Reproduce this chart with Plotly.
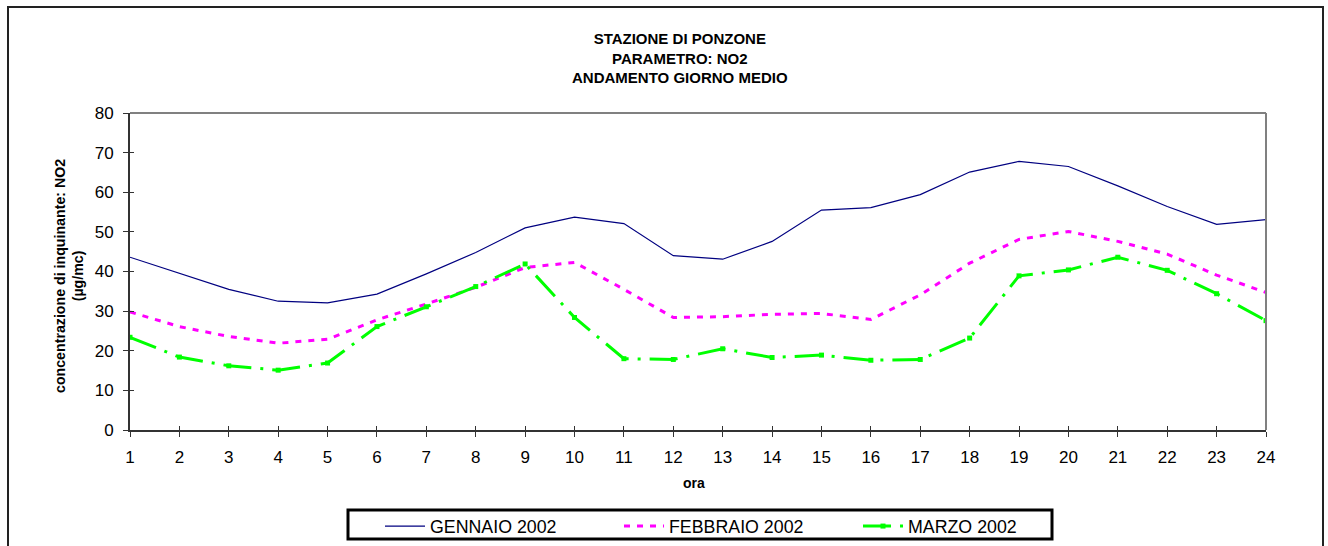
import plotly.graph_objects as go

# Hour of day
ore = list(range(1, 25))

# Mean daily NO2 profile (µg/mc) per month
gennaio_2002 = [43.6, 39.5, 35.5, 32.5, 32.1, 34.3, 39.4, 44.8, 51.0, 53.7, 52.1, 44.0,
                43.1, 47.6, 55.5, 56.1, 59.4, 65.1, 67.8, 66.5, 61.6, 56.4, 51.9, 53.1]
febbraio_2002 = [29.8, 26.1, 23.6, 21.9, 22.9, 27.8, 31.8, 36.0, 41.0, 42.3, 35.5, 28.4,
                 28.6, 29.2, 29.4, 27.9, 34.1, 42.1, 48.1, 50.1, 47.6, 44.4, 39.1, 34.7]
marzo_2002 = [23.4, 18.4, 16.2, 15.1, 16.9, 26.1, 31.1, 36.2, 41.9, 28.4, 18.0, 17.8,
              20.5, 18.3, 18.9, 17.6, 17.8, 23.2, 38.9, 40.4, 43.6, 40.3, 34.4, 27.6]

y_ticks = [0, 10, 20, 30, 40, 50, 60, 70, 80]

FONT = "Liberation Sans, Arial, sans-serif"

W, H = 1328, 546
ML, MR, MT, MB = 130, 62, 113, 116
PW, PH = W - ML - MR, H - MT - MB


def px_x(x):
    return (x - ML) / PW


def px_y(y):
    return (H - MB - y) / PH


fig = go.Figure()

fig.add_trace(go.Scatter(
    x=ore, y=gennaio_2002, name="GENNAIO 2002", mode="lines",
    line=dict(color="#000080", width=1.2),
))
fig.add_trace(go.Scatter(
    x=ore, y=febbraio_2002, name="FEBBRAIO 2002", mode="lines",
    line=dict(color="#FF00FF", width=3, dash="6px,7px"),
))
fig.add_trace(go.Scatter(
    x=ore, y=marzo_2002, name="MARZO 2002", mode="lines+markers",
    line=dict(color="#00FF00", width=3, dash="28px,9px,3px,9px"),
    marker=dict(symbol="square", size=5, color="#00FF00"),
))

# helper trace so the overlay axes (inner half of the crossing ticks) are drawn
fig.add_trace(go.Scatter(
    x=[None], y=[None], xaxis="x2", yaxis="y2", showlegend=False,
    hoverinfo="skip", mode="lines",
))

axis_color = "#333333"

fig.update_layout(
    width=W, height=H,
    margin=dict(l=ML, r=MR, t=MT, b=MB, autoexpand=False),
    paper_bgcolor="white", plot_bgcolor="white",
    font=dict(family=FONT, color="black", size=17),
    showlegend=True,
    xaxis=dict(
        range=[1, 24], tickmode="array", tickvals=ore, ticktext=[str(h) for h in ore],
        showgrid=False, zeroline=False,
        showline=True, linecolor=axis_color, linewidth=2,
        ticks="outside", ticklen=5, tickwidth=1, tickcolor=axis_color,
        tickfont=dict(size=17), ticklabelstandoff=6,
    ),
    yaxis=dict(
        range=[0, 80], tickmode="array", tickvals=y_ticks,
        showgrid=False, zeroline=False,
        showline=True, linecolor=axis_color, linewidth=2,
        ticks="outside", ticklen=5, tickwidth=1, tickcolor=axis_color,
        tickfont=dict(size=17), ticklabelstandoff=6,
    ),
    xaxis2=dict(
        overlaying="x", matches="x", anchor="y2", side="bottom",
        showgrid=False, zeroline=False, showline=False,
        tickmode="array", tickvals=ore, showticklabels=False,
        ticks="inside", ticklen=4, tickwidth=1, tickcolor=axis_color,
    ),
    yaxis2=dict(
        overlaying="y", matches="y", anchor="x2", side="left",
        showgrid=False, zeroline=False, showline=False,
        tickmode="array", tickvals=y_ticks, showticklabels=False,
        ticks="inside", ticklen=4, tickwidth=1, tickcolor=axis_color,
    ),
    legend=dict(
        orientation="h", x=px_x(380), y=px_y(508), xanchor="left", yanchor="top",
        borderwidth=0, bgcolor="rgba(0,0,0,0)",
        font=dict(size=17.8), entrywidthmode="pixels", entrywidth=184,
        itemwidth=40,
    ),
)

# Chart title
fig.add_annotation(
    text="<b>STAZIONE DI PONZONE<br>PARAMETRO: NO2<br>ANDAMENTO GIORNO MEDIO</b>",
    xref="paper", yref="paper", x=px_x(680), y=px_y(58), xanchor="center", yanchor="middle",
    showarrow=False, font=dict(size=15), align="center",
)
# Axis titles
fig.add_annotation(
    text="<b>concentrazione di inquinante: NO2<br>(µg/mc)</b>",
    xref="paper", yref="paper", x=px_x(69), y=px_y(276), xanchor="center", yanchor="middle",
    showarrow=False, textangle=-90, font=dict(size=14.2), align="center",
)
fig.add_annotation(
    text="<b>ora</b>", xref="paper", yref="paper", x=px_x(694), y=px_y(483),
    xanchor="center", yanchor="middle", showarrow=False, font=dict(size=14),
)

# Plot-area frame (top and right), legend box and outer chart border
fig.add_shape(type="line", xref="paper", yref="paper", x0=0, x1=1, y0=1, y1=1,
              line=dict(color="#808080", width=2))
fig.add_shape(type="line", xref="paper", yref="paper", x0=1, x1=1, y0=0, y1=1,
              line=dict(color="#808080", width=2))
fig.add_shape(type="rect", xref="paper", yref="paper",
              x0=px_x(348), x1=px_x(1052), y0=px_y(539), y1=px_y(510),
              line=dict(color="black", width=3))
fig.add_shape(type="rect", xref="paper", yref="paper",
              x0=px_x(8), x1=px_x(1323), y0=px_y(560), y1=px_y(7),
              line=dict(color="#222222", width=2))

fig.write_html("out.html")
